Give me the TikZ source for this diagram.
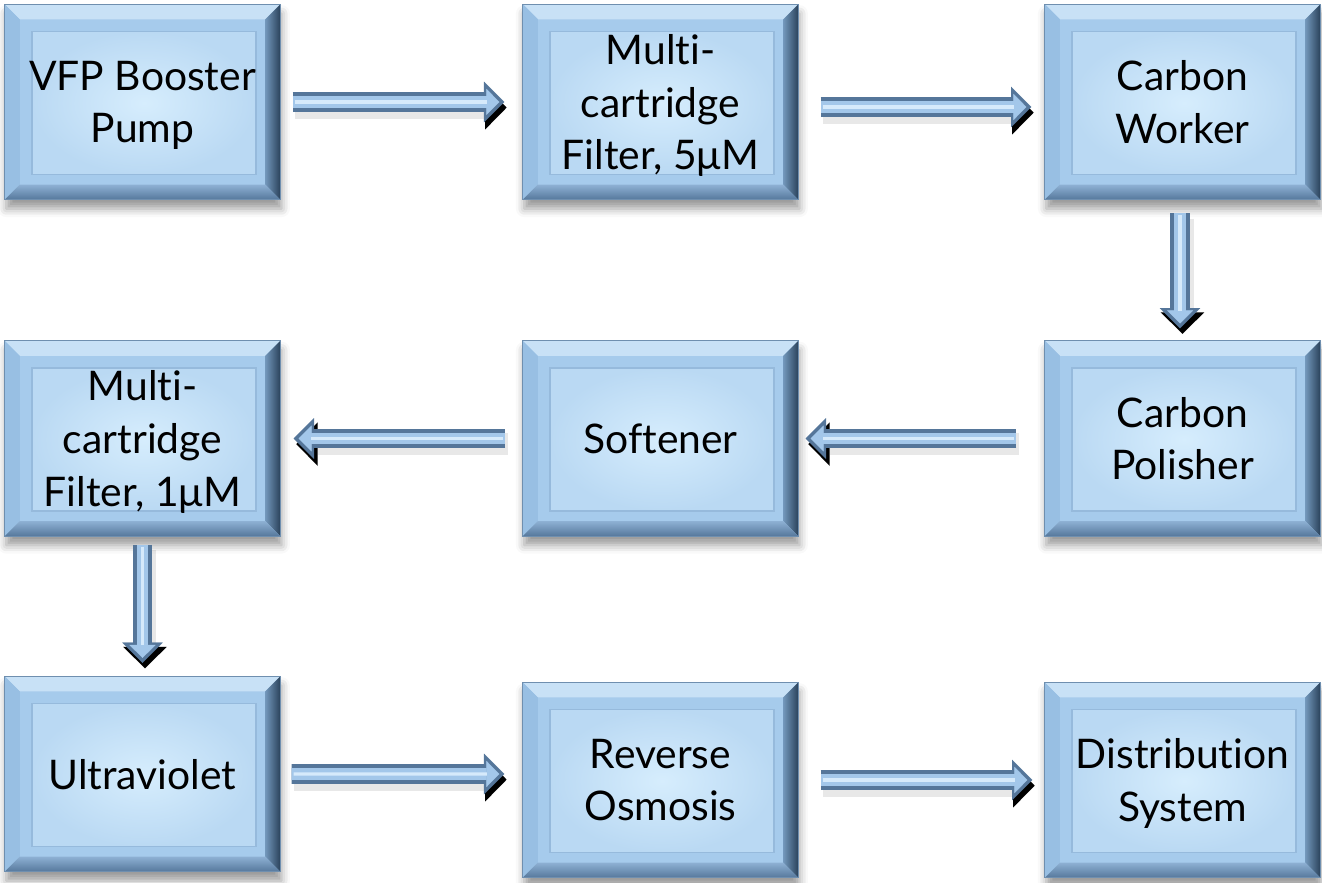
\documentclass[tikz,border=0pt]{standalone}
\usepackage{fontspec}
\setmainfont{Lato}[Ligatures=NoCommon]
\usetikzlibrary{calc,arrows.meta,shadows.blur}

\definecolor{band}{HTML}{A6CBEC}
\definecolor{beveltop}{HTML}{C8E1F6}
\definecolor{bevelleft}{HTML}{98BFE3}
\definecolor{bevelrin}{HTML}{7398BC}
\definecolor{bevelrout}{HTML}{2B435C}
\definecolor{bevelbin}{HTML}{8EB1D4}
\definecolor{bevelbout}{HTML}{56789C}
\definecolor{edgeline}{HTML}{6F8FAF}
\definecolor{panelin}{HTML}{D6EDFD}
\definecolor{panelout}{HTML}{BAD9F3}
\definecolor{panelline}{HTML}{96BADC}
\definecolor{arrowedge}{HTML}{55769A}
\definecolor{arrowface}{HTML}{A3C7EA}
\definecolor{arrowshine}{HTML}{D6EAFB}

\newcommand\stagefont{\fontsize{11.6pt}{15pt}\selectfont}
\newcommand\bv{0.15cm}

\tikzset{
  stage/.style={
    rectangle, minimum width=2.75cm, minimum height=1.95cm, inner sep=0pt,
    align=center, font=\stagefont, text=black, text depth=-2.4pt,
    fill=band, draw=edgeline, line width=0.3pt,
    blur shadow={shadow xshift=0.4pt, shadow yshift=-2.6pt,
                 shadow blur radius=2.4pt, shadow opacity=40},
    path picture={
      \coordinate (@nw) at (path picture bounding box.north west);
      \coordinate (@ne) at (path picture bounding box.north east);
      \coordinate (@sw) at (path picture bounding box.south west);
      \coordinate (@se) at (path picture bounding box.south east);
      % bevelled frame
      \fill[beveltop] (@nw) -- (@ne) -- ($(@ne)+(-\bv,-\bv)$) -- ($(@nw)+(\bv,-\bv)$) -- cycle;
      \fill[bevelleft] (@nw) -- ($(@nw)+(\bv,-\bv)$) -- ($(@sw)+(\bv,\bv)$) -- (@sw) -- cycle;
      \shade[left color=bevelrin, right color=bevelrout]
        (@ne) -- (@se) -- ($(@se)+(-\bv,\bv)$) -- ($(@ne)+(-\bv,-\bv)$) -- cycle;
      \shade[top color=bevelbin, bottom color=bevelbout]
        (@sw) -- ($(@sw)+(\bv,\bv)$) -- ($(@se)+(-\bv,\bv)$) -- (@se) -- cycle;
      % inner panel
      \shade[inner color=panelin, outer color=panelout, draw=panelline, line width=0.5pt]
        ($(@nw)+(0.27cm,-0.27cm)$) rectangle ($(@se)+(-0.24cm,0.25cm)$);
    }
  },
  flow/.style={
    draw=arrowedge, line width=5.6pt,
    -{Triangle[width=11.6pt,length=5.8pt,line width=0.1pt]},
    preaction={draw=black, draw opacity=0.09, line width=6.4pt,
      -{Triangle[width=12.6pt,length=6.2pt,line width=0.1pt]},
      transform canvas={shift={(0.7pt,-1.6pt)}}},
    postaction={draw=arrowface, line width=3.4pt,
      -{Triangle[width=7.4pt,length=3.7pt,line width=0.1pt]}, shorten >=1.4pt},
    postaction={draw=arrowshine, line width=0.9pt, -, shorten >=5pt, shorten <=0.6pt}
  }
}

\begin{document}
\begin{tikzpicture}[x=0.01cm, y=-0.01cm]
  \useasboundingbox (0,0) rectangle (1322,883);

  % first row
  \node[stage] (pump) at (142.5,102) {VFP Booster\\Pump};
  \node[stage] (mcf5) at (660.5,102) {Multi-\\cartridge\\Filter, 5μM};
  \node[stage] (cworker) at (1182.5,102) {Carbon\\Worker};

  % second row
  \node[stage] (mcf1) at (142.5,438.5) {Multi-\\cartridge\\Filter, 1μM};
  \node[stage] (soft) at (660.5,438.5) {Softener};
  \node[stage] (cpolish) at (1182.5,438.5) {Carbon\\Polisher};

  % third row
  \node[stage] (uv) at (142.5,774) {Ultraviolet};
  \node[stage] (ro) at (660.5,780) {Reverse\\Osmosis};
  \node[stage] (dist) at (1182.5,780) {Distribution\\System};

  % flow between stages
  \draw[flow] ($(pump.east)+(0.12cm,0)$) -- ($(mcf5.west)+(-0.18cm,0)$);
  \draw[flow] ($(mcf5.east)+(0.22cm,-0.05cm)$) -- ($(cworker.west)+(-0.13cm,-0.05cm)$);
  \draw[flow] ($(cworker.south)+(-0.025cm,-0.13cm)$) -- ($(cpolish.north)+(-0.025cm,0.12cm)$);
  \draw[flow] ($(cpolish.west)+(-0.28cm,0)$) -- ($(soft.east)+(0.07cm,0)$);
  \draw[flow] ($(soft.west)+(-0.17cm,0)$) -- ($(mcf1.east)+(0.13cm,0)$);
  \draw[flow] ($(mcf1.south)+(0,-0.08cm)$) -- ($(uv.north)+(0,0.13cm)$);
  \draw[flow] ($(uv.east)+(0.11cm,0)$) -- ($(ro.west)+(-0.18cm,0.06cm)$);
  \draw[flow] ($(ro.east)+(0.22cm,0)$) -- ($(dist.west)+(-0.12cm,0)$);
\end{tikzpicture}
\end{document}
